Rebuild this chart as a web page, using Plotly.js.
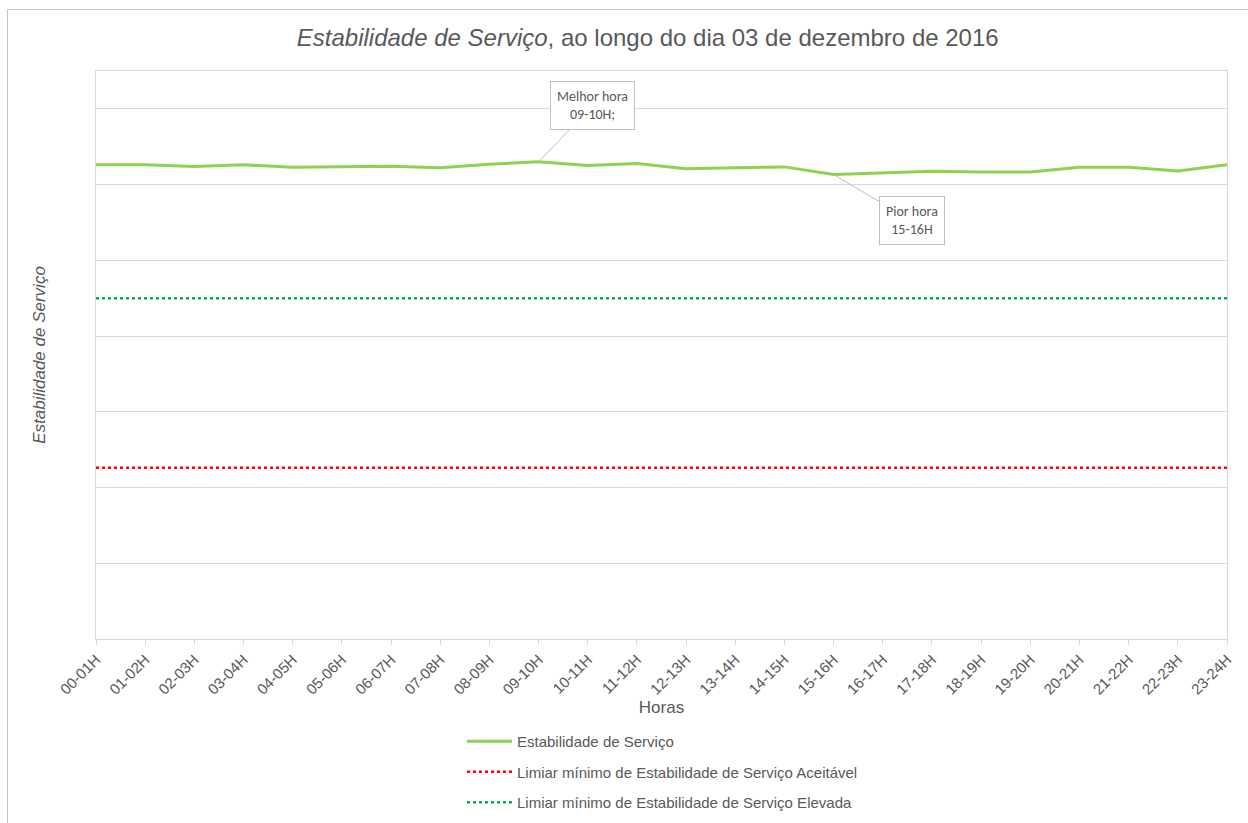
<!DOCTYPE html>
<html>
<head>
<meta charset="utf-8">
<script src="https://cdn.plot.ly/plotly-3.0.1.min.js"></script>
<style>
  html, body { margin: 0; padding: 0; background: #ffffff; }
  #chart { width: 1248px; height: 823px; position: absolute; left: 0; top: 0; }
  #frame { position: absolute; left: 7px; top: 9px; width: 1260px; height: 840px;
           border: 1px solid #c4c4c4; pointer-events: none; }
</style>
</head>
<body>
<div id="chart"></div>
<div id="frame"></div>
<script>
// ---- data ----
const hours = ["00-01H","01-02H","02-03H","03-04H","04-05H","05-06H","06-07H","07-08H",
  "08-09H","09-10H","10-11H","11-12H","12-13H","13-14H","14-15H","15-16H",
  "16-17H","17-18H","18-19H","19-20H","20-21H","21-22H","22-23H","23-24H"];
const stability = [62.61, 62.61, 62.38, 62.61, 62.29, 62.38, 62.42, 62.21,
  62.69, 63.01, 62.52, 62.78, 62.09, 62.21, 62.34, 61.32,
  61.59, 61.76, 61.68, 61.68, 62.29, 62.29, 61.81, 62.61];
const thresholdAcceptable = 22.6;
const thresholdHigh = 45.0;
const bestHour = "09-10H";
const worstHour = "15-16H";

const accArr = hours.map(() => thresholdAcceptable);
const highArr = hours.map(() => thresholdHigh);
const bestIdx = hours.indexOf(bestHour);
const worstIdx = hours.indexOf(worstHour);

const txtColor = "#595959";
const font = "'Liberation Sans', Arial, sans-serif";
const calloutFont = "Carlito, 'Liberation Sans Narrow', 'Noto Sans', sans-serif";

const traces = [
  { x: hours, y: stability, type: "scatter", mode: "lines", name: "Estabilidade de Serviço",
    line: { color: "#92d050", width: 3 }, legendgroup: "a", hoverinfo: "skip" },
  { x: hours, y: accArr, type: "scatter", mode: "lines",
    name: "Limiar mínimo de Estabilidade de Serviço Aceitável",
    line: { color: "#ff0000", width: 2.5, dash: "dot" }, legendgroup: "b", hoverinfo: "skip" },
  { x: hours, y: highArr, type: "scatter", mode: "lines",
    name: "Limiar mínimo de Estabilidade de Serviço Elevada",
    line: { color: "#00b050", width: 2.5, dash: "dot" }, legendgroup: "c", hoverinfo: "skip" }
];

const layout = {
  width: 1248, height: 823,
  margin: { l: 96, r: 21, t: 71, b: 184 },
  paper_bgcolor: "#ffffff", plot_bgcolor: "#ffffff",
  font: { family: font, color: txtColor },
  showlegend: true,
  title: {
    text: "<i>Estabilidade de Serviço</i>, ao longo do dia 03 de dezembro de 2016",
    font: { family: font, size: 24, color: txtColor },
    xref: "container", x: 0.519, xanchor: "center",
    yref: "container", y: 0.954, yanchor: "middle"
  },
  xaxis: {
    type: "category", range: [0, hours.length - 1],
    tickangle: -45, tickfont: { family: font, size: 15, color: txtColor },
    showgrid: false, zeroline: false, automargin: false,
    showline: true, linecolor: "#d9d9d9", linewidth: 1, mirror: true,
    ticks: "outside", ticklen: 5, tickcolor: "#d9d9d9",
    title: { text: "Horas", font: { family: font, size: 17, color: txtColor }, standoff: 2 }
  },
  yaxis: {
    range: [0, 75], dtick: 10, showticklabels: false, automargin: false,
    showgrid: true, gridcolor: "#d9d9d9", gridwidth: 1, zeroline: false,
    showline: true, linecolor: "#d9d9d9", linewidth: 1, mirror: true, ticks: "",
    title: { text: "<i>Estabilidade de Serviço</i>", font: { family: font, size: 17, color: txtColor }, standoff: 45 }
  },
  legend: {
    orientation: "v", xref: "paper", x: 0.3236, xanchor: "left",
    yref: "container", y: 0.119, yanchor: "top",
    font: { size: 15, color: txtColor, family: font },
    itemwidth: 45,
    traceorder: "grouped", tracegroupgap: 8, bgcolor: "rgba(0,0,0,0)"
  },
  annotations: [
    { x: hours[bestIdx], y: stability[bestIdx], xref: "x", yref: "y",
      text: "Melhor hora<br>09-10H;", showarrow: true, arrowhead: 0, arrowwidth: 1,
      arrowcolor: "#bfbfbf", ax: 54, ay: -56,
      bgcolor: "#ffffff", bordercolor: "#bfbfbf", borderwidth: 1, borderpad: 6,
      font: { family: calloutFont, size: 14, color: txtColor } },
    { x: hours[worstIdx], y: stability[worstIdx], xref: "x", yref: "y",
      text: "Pior hora<br>15-16H", showarrow: true, arrowhead: 0, arrowwidth: 1,
      arrowcolor: "#bfbfbf", ax: 78, ay: 46,
      bgcolor: "#ffffff", bordercolor: "#bfbfbf", borderwidth: 1, borderpad: 6,
      font: { family: calloutFont, size: 14, color: txtColor } }
  ]
};

Plotly.newPlot("chart", traces, layout, { displayModeBar: false, staticPlot: true });
</script>
</body>
</html>
